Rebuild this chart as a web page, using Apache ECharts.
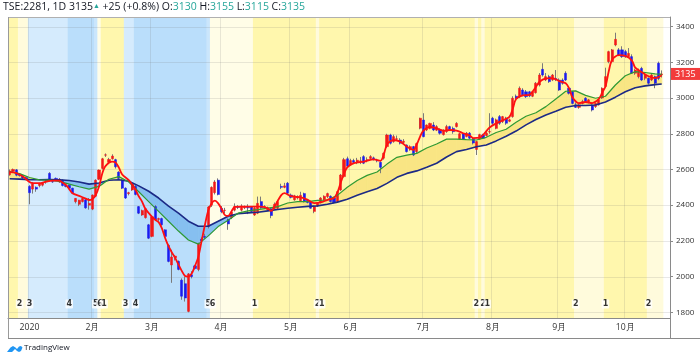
<!DOCTYPE html>
<html><head><meta charset="utf-8">
<script src="https://cdn.jsdelivr.net/npm/echarts@6/dist/echarts.min.js"></script>
<style>html,body{margin:0;padding:0;background:#fff}#c{width:700px;height:360px}</style>
</head><body><div id="c"></div>
<script>
// ---------------- data ----------------
const monthDays = [
 ['2019-12',[23,24,25,26,27,30]],
 ['2020-01',[6,7,8,9,10,14,15,16,17,20,21,22,23,24,27,28,29,30,31]],
 ['2020-02',[3,4,5,6,7,10,12,13,14,17,18,19,20,21,25,26,27,28]],
 ['2020-03',[2,3,4,5,6,9,10,11,12,13,16,17,18,19,23,24,25,26,27,30,31]],
 ['2020-04',[1,2,3,6,7,8,9,10,13,14,15,16,17,20,21,22,23,24,27,28,30]],
 ['2020-05',[1,7,8,11,12,13,14,15,18,19,20,21,22,25,26,27,28,29]],
 ['2020-06',[1,2,3,4,5,8,9,10,11,12,15,16,17,18,19,22,23,24,25,26,29,30]],
 ['2020-07',[1,2,3,6,7,8,9,10,13,14,15,16,17,20,21,22,27,28,29,30,31]],
 ['2020-08',[3,4,5,6,7,11,12,13,14,17,18,19,20,21,24,25,26,27,28,31]],
 ['2020-09',[1,2,3,4,7,8,9,10,11,14,15,16,17,18,23,24,25,28,29,30]],
 ['2020-10',[2,5,6,7,8,9,12,13,14,15,16,19]]
];
const opens = [2570,2590,2598,2570,2565,2555,2505,2490,2500,2510,2512,2530,2578,2532,2550,2530,2540,2512,2512,2495,
2420,2405,2420,2430,2400,2378,2450,2545,2606,2680,2640,2660,2655,2585,2540,2495,2465,2485,2505,2392,
2345,2330,2290,2225,2392,2320,2325,2262,2175,2065,2105,2085,1980,1960,1805,2010,2060,2040,2210,2225,
2280,2400,2470,2540,2383,2370,2320,2330,2372,2390,2372,2385,2388,2390,2345,2355,2420,2390,2375,2380,
2382,2383,2505,2500,2523,2457,2430,2440,2425,2465,2430,2420,2365,2395,2415,2430,2448,2450,2440,2420,
2485,2560,2660,2625,2650,2640,2645,2672,2650,2662,2665,2650,2640,2663,2728,2793,2756,2770,2765,2752,
2737,2710,2728,2700,2831,2877,2821,2830,2849,2820,2821,2795,2812,2840,2830,2840,2770,2800,2785,2803,
2775,2712,2770,2793,2790,2810,2887,2830,2896,2868,2887,2870,2896,3010,3008,3045,3035,3035,3010,3030,
3073,3161,3101,3120,3101,3110,3101,3101,3139,3055,3036,2962,2948,2970,2999,2975,2961,2952,2962,3000,
3065,3204,3204,3297,3270,3270,3260,3232,3232,3139,3120,3166,3111,3111,3101,3120,3195,3130];
const highs = [2600,2605,2602,2578,2570,2560,2512,2530,2505,2525,2530,2545,2585,2540,2555,2552,2545,2520,2515,2498,
2440,2430,2440,2435,2440,2460,2545,2600,2665,2690,2665,2685,2660,2590,2545,2500,2475,2525,2515,2395,
2375,2385,2295,2340,2400,2330,2330,2265,2180,2150,2120,2090,1990,2000,2020,2030,2065,2190,2220,2240,
2395,2505,2540,2550,2395,2385,2325,2368,2410,2400,2405,2398,2405,2395,2390,2448,2448,2400,2392,2385,
2415,2430,2520,2525,2530,2465,2458,2455,2475,2470,2435,2425,2398,2415,2445,2455,2470,2455,2445,2480,
2575,2665,2672,2660,2660,2665,2670,2680,2668,2680,2672,2660,2645,2695,2800,2800,2795,2790,2775,2770,
2740,2735,2732,2750,2890,2915,2852,2862,2865,2848,2830,2825,2850,2845,2840,2865,2805,2805,2810,2810,
2780,2760,2800,2800,2810,2915,2895,2885,2905,2900,2895,2885,3010,3020,3065,3055,3045,3040,3040,3090,
3140,3195,3140,3130,3135,3157,3110,3110,3150,3065,3040,2975,2970,2990,3005,2995,2965,2975,2995,3060,
3170,3265,3275,3366,3280,3290,3270,3280,3245,3165,3165,3175,3135,3115,3135,3125,3204,3155];
const lows = [2565,2580,2562,2560,2548,2540,2405,2465,2475,2500,2505,2520,2540,2525,2535,2525,2505,2500,2490,2462,
2410,2395,2415,2380,2375,2372,2445,2540,2600,2670,2630,2655,2605,2545,2490,2435,2455,2480,2455,2350,
2340,2325,2210,2220,2315,2310,2285,2220,2080,1965,2090,2035,1870,1860,1800,1990,2040,2030,2195,2210,
2270,2390,2460,2455,2355,2355,2262,2322,2365,2378,2365,2378,2350,2360,2340,2350,2380,2380,2368,2327,
2375,2378,2490,2495,2460,2438,2425,2432,2420,2415,2410,2380,2355,2390,2410,2425,2440,2415,2410,2415,
2480,2555,2610,2620,2630,2630,2630,2630,2640,2655,2650,2640,2579,2655,2720,2740,2750,2760,2740,2745,
2695,2705,2675,2690,2825,2780,2815,2825,2815,2815,2795,2790,2805,2815,2800,2835,2765,2765,2780,2770,
2740,2681,2765,2770,2785,2800,2850,2825,2850,2860,2850,2865,2890,2990,3000,3010,3000,3005,3005,3025,
3065,3120,3095,3085,3095,3095,3040,3075,3095,3020,2965,2945,2940,2965,2975,2970,2925,2945,2958,2995,
3060,3195,3195,3290,3235,3225,3225,3225,3135,3130,3110,3095,3100,3075,3095,3055,3100,3115];
const closes = [2592,2600,2568,2566,2552,2545,2470,2520,2490,2520,2525,2540,2545,2530,2538,2545,2510,2505,2495,2467,
2438,2428,2438,2385,2410,2457,2540,2597,2660,2682,2656,2675,2615,2550,2495,2440,2470,2520,2460,2355,
2370,2380,2215,2335,2318,2325,2290,2225,2085,2110,2115,2040,1890,1880,2015,2000,2045,2185,2200,2220,
2390,2500,2530,2460,2364,2372,2295,2362,2392,2388,2395,2392,2385,2365,2383,2410,2385,2392,2385,2342,
2405,2420,2500,2508,2467,2444,2452,2447,2455,2420,2415,2383,2392,2410,2440,2450,2465,2420,2415,2476,
2569,2655,2618,2650,2640,2652,2648,2635,2655,2672,2660,2648,2612,2691,2793,2747,2784,2772,2747,2758,
2700,2728,2681,2745,2887,2784,2849,2858,2821,2840,2803,2818,2840,2820,2812,2858,2800,2770,2803,2775,
2748,2756,2795,2775,2803,2812,2859,2878,2859,2896,2859,2878,2999,2998,3055,3018,3008,3012,3035,3083,
3129,3129,3120,3092,3129,3105,3045,3083,3101,3027,2970,2948,2962,2980,2980,2990,2933,2970,2990,3055,
3120,3260,3270,3329,3241,3232,3232,3250,3139,3157,3157,3101,3129,3083,3129,3083,3110,3135];

// moving averages (bar index, value)
const maIdx = [0,3,6,9,12,15,18,21,24,27,30,33,36,39,42,45,48,51,54,57,60,63,66,69,72,75,78,81,84,87,90,93,96,99,
102,105,108,111,114,117,120,123,126,129,132,135,138,141,144,147,150,153,156,159,162,165,168,171,174,177,180,183,186,189,192,195,197];
const maMid = [2588,2577,2555,2542,2540,2533,2518,2503,2490,2505,2545,2560,2530,2475,2420,2365,2310,2255,2205,2182,2228,2280,2315,2355,
2368,2375,2383,2392,2412,2420,2420,2427,2429,2455,2500,2538,2567,2586,2630,2668,2680,2690,2720,2743,2770,2770,2767,2765,2780,2807,
2825,2865,2898,2918,2952,2995,3038,3040,3015,2999,3010,3073,3125,3148,3143,3135,3133];
const maLong = [2548,2546,2543,2542,2544,2542,2538,2530,2518,2524,2540,2542,2534,2508,2478,2440,2395,2355,2310,2282,2282,2310,2338,2352,
2357,2360,2368,2376,2383,2388,2393,2396,2405,2417,2433,2455,2475,2493,2522,2556,2578,2592,2612,2635,2670,2700,2712,2727,2737,2760,
2786,2815,2850,2880,2905,2926,2948,2958,2958,2961,2978,3005,3035,3058,3068,3075,3079];
const maFastIdx = [0,2,4,6,7,9,11,13,15,16,17,18,19,21,23,24,25,26,27,28,29,31,32,33,34,36,37,38,39,40,41,43,44,45,46,47,48,49,50,
51,52,53,54,55,56,57,58,59,60,61,62,63,64,65,66,67,68,70,72,76,78,79,80,82,83,85,88,90,92,94,96,98,99,100,101,102,104,107,110,112,
113,114,116,118,120,122,123,124,125,127,129,131,133,135,137,139,140,142,143,145,147,149,151,152,153,155,157,159,160,162,164,166,168,
169,170,172,174,176,178,179,180,181,182,184,186,188,189,191,193,195,197];
const maFast = [2585,2580,2560,2530,2523,2523,2532,2538,2538,2526,2513,2490,2467,2452,2437,2429,2435,2457,2504,2579,2620,2644,2640,2610,
2572,2540,2515,2488,2450,2420,2380,2335,2318,2305,2270,2215,2170,2135,2105,2068,2032,2003,2000,2017,2060,2110,2200,2290,2370,2410,
2425,2410,2380,2345,2340,2365,2390,2392,2392,2392,2383,2368,2392,2455,2467,2450,2444,2430,2411,2415,2430,2440,2470,2525,2575,2612,
2635,2644,2657,2648,2681,2740,2765,2756,2728,2710,2740,2784,2818,2838,2830,2818,2821,2818,2803,2790,2776,2778,2793,2835,2858,2876,
2895,2940,2995,3015,3018,3062,3090,3110,3112,3095,3083,3055,3005,2972,2978,2972,2995,3030,3065,3150,3215,3240,3236,3210,3170,3145,
3122,3112,3128];

// background regime bands and their markers
const bandStart = [0,3,6,18,26,27,28,35,38,60,61,74,93,94,141,142,143,144,171,180,193];
const bandEnd   = [2,5,17,25,26,27,34,37,59,60,73,92,93,140,141,142,143,170,179,192,197];
const bandState = [1,2,3,4,5,6,1,3,4,5,6,1,2,1,2,1,2,1,2,1,2];
const markIdx  = [3,6,18,26,27,28,35,38,60,61,74,93,94,141,143,144,171,180,193];
const markText = ['2','3','4','5','6','1','3','4','5','6','1','2','1','2','2','1','2','1','2'];

const yTicks = [1800,2000,2200,2400,2600,2800,3000,3200,3400];
const lastPrice = 3135;

// ---------------- chart ----------------
const cats = [];
monthDays.forEach(([m, ds]) => ds.forEach(d => cats.push(m + '-' + String(d).padStart(2, '0'))));
const nReal = cats.length;
cats.push('pad-1', 'pad-2');
const isMonthStart = i => i > 0 && i < nReal && cats[i].slice(0, 7) !== cats[i - 1].slice(0, 7);
const monthStarts = cats.map((c, i) => i).filter(isMonthStart);

const candleData = opens.map((o, i) => [o, closes[i], lows[i], highs[i]]);
const bodyData = opens.map((o, i) => [o, closes[i], Math.min(o, closes[i]), Math.max(o, closes[i])]);

// markers on consecutive bars are spread slightly so that each stays readable
let run = 0;
const markData = markIdx.map((i, k) => {
  run = (k > 0 && i - markIdx[k - 1] === 1) ? run + 1 : 0;
  return {value: [i, 1847, markText[k]], label: {offset: [run * 0.9, 0]}};
});

const BAND_COLORS = {1:'rgba(255,235,59,0.42)',2:'rgba(255,235,59,0.18)',3:'rgba(33,150,243,0.19)',
  4:'rgba(33,150,243,0.31)',5:'rgba(33,150,243,0.24)',6:'rgba(255,235,59,0.12)'};
const FILL_UP = '#f9e584', FILL_DN = '#86bff0';
const GRID_COLOR = 'rgba(110,110,110,0.16)';
const FONT = 'Open Sans';

const chart = echarts.init(document.getElementById('c'), null, {renderer: 'canvas'});
const option = {
  animation: false,
  backgroundColor: '#ffffff',
  textStyle: {fontFamily: FONT},
  grid: {left: 8, right: 30, top: 17, bottom: 42},
  xAxis: {
    type: 'category', data: cats, boundaryGap: true,
    axisLine: {show: true, lineStyle: {color: '#8a8a8a', width: 1}},
    axisTick: {show: false},
    splitLine: {show: false},
    axisLabel: {
      interval: (i) => isMonthStart(i),
      formatter: v => { const m = +v.slice(5, 7); return m === 1 ? v.slice(0, 4) : m + '月'; },
      color: '#333', fontSize: 8.7, margin: 5, fontFamily: FONT
    }
  },
  yAxis: {
    type: 'value', position: 'right', min: 1768, max: 3454, scale: true,
    axisLine: {show: true, lineStyle: {color: '#8a8a8a'}},
    axisTick: {show: true, length: 3, lineStyle: {color: '#8a8a8a'}, customValues: yTicks},
    axisLabel: {customValues: yTicks, formatter: v => String(v), color: '#333', fontSize: 8, margin: 6, fontFamily: FONT},
    splitLine: {show: false}
  },
  series: [
    { // regime bands
      type: 'custom', z: 1, silent: true,
      data: bandStart.map((s, i) => [s, bandEnd[i], bandState[i]]),
      encode: {x: [0, 1]},
      renderItem: (params, api) => {
        const cs = params.coordSys;
        const w = api.size([1, 0])[0];
        const x0 = api.coord([api.value(0), 2000])[0] - w / 2;
        const x1 = api.coord([api.value(1), 2000])[0] + w / 2;
        return {type: 'rect', shape: {x: x0, y: cs.y, width: x1 - x0, height: cs.height},
          style: {fill: BAND_COLORS[api.value(2)]}};
      }
    },
    { // horizontal grid lines
      type: 'custom', z: 1, silent: true,
      data: yTicks.map(v => [0, v]), encode: {x: 0, y: 1},
      renderItem: (params, api) => {
        const cs = params.coordSys; const y = Math.round(api.coord([0, api.value(1)])[1]) + 0.5;
        return {type: 'line', shape: {x1: cs.x, y1: y, x2: cs.x + cs.width, y2: y}, style: {stroke: GRID_COLOR, lineWidth: 1}};
      }
    },
    { // vertical month lines
      type: 'custom', z: 1, silent: true,
      data: monthStarts.map(i => [i, 2000]), encode: {x: 0, y: 1},
      renderItem: (params, api) => {
        const cs = params.coordSys; const w = api.size([1, 0])[0];
        const x = Math.round(api.coord([api.value(0), 2000])[0] - w / 2) + 0.5;
        return {type: 'line', shape: {x1: x, y1: cs.y, x2: x, y2: cs.y + cs.height}, style: {stroke: GRID_COLOR, lineWidth: 1}};
      }
    },
    { // fill between mid and long averages
      type: 'custom', z: 2, silent: true,
      data: maIdx.slice(0, -1).map((i, k) => [i, maIdx[k + 1], maMid[k], maMid[k + 1], maLong[k], maLong[k + 1]]),
      encode: {x: [0, 1], y: [2, 3, 4, 5]},
      renderItem: (params, api) => {
        const i0 = api.value(0), i1 = api.value(1), g0 = api.value(2), g1 = api.value(3), n0 = api.value(4), n1 = api.value(5);
        const G0 = api.coord([i0, g0]), G1 = api.coord([i1, g1]), N0 = api.coord([i0, n0]), N1 = api.coord([i1, n1]);
        const d0 = g0 - n0, d1 = g1 - n1;
        const st = c => ({fill: c, stroke: c, lineWidth: 0.6});
        if (d0 * d1 >= 0) {
          const c = (d0 + d1) >= 0 ? FILL_UP : FILL_DN;
          return {type: 'polygon', shape: {points: [G0, G1, N1, N0]}, style: st(c)};
        }
        const t = d0 / (d0 - d1);
        const X = [G0[0] + t * (G1[0] - G0[0]), G0[1] + t * (G1[1] - G0[1])];
        return {type: 'group', children: [
          {type: 'polygon', shape: {points: [G0, X, N0]}, style: st(d0 >= 0 ? FILL_UP : FILL_DN)},
          {type: 'polygon', shape: {points: [X, G1, N1]}, style: st(d1 >= 0 ? FILL_UP : FILL_DN)}
        ]};
      }
    },
    { // wicks
      type: 'candlestick', z: 3, silent: true, data: candleData, barWidth: 1,
      itemStyle: {color: '#7a7a7a', color0: '#7a7a7a', borderColor: '#7a7a7a', borderColor0: '#7a7a7a', borderWidth: 1}
    },
    { // bodies
      type: 'candlestick', z: 4, silent: true, data: bodyData, barWidth: 2.6,
      itemStyle: {color: '#f21818', color0: '#1a1af0', borderColor: '#f21818', borderColor0: '#1a1af0', borderWidth: 0.5},
      markLine: {
        silent: true, symbol: 'none', animation: false,
        lineStyle: {color: 'rgba(0,0,0,0)', width: 0},
        label: {position: 'end', formatter: String(lastPrice), color: '#fff', backgroundColor: '#f23c3c',
          padding: [2, 5, 1, 5], fontSize: 9, distance: 0, fontFamily: FONT},
        data: [{yAxis: lastPrice}]
      }
    },
    { type: 'line', z: 5, silent: true, data: maIdx.map((i, k) => [i, maLong[k]]), symbol: 'none',
      lineStyle: {color: '#1c2a86', width: 1.6} },
    { type: 'line', z: 5, silent: true, data: maIdx.map((i, k) => [i, maMid[k]]), symbol: 'none',
      lineStyle: {color: '#2f9a35', width: 1.2} },
    { type: 'line', z: 6, silent: true, data: maFastIdx.map((i, k) => [i, maFast[k]]), symbol: 'none', smooth: 0.3,
      lineStyle: {color: '#ff1010', width: 1.8} },
    { // regime markers
      type: 'scatter', z: 7, silent: true, symbolSize: 1, itemStyle: {color: 'rgba(0,0,0,0)'},
      data: markData,
      label: {show: true, position: 'inside', formatter: p => p.data.value[2], color: '#000', fontWeight: 'bold',
        fontSize: 8, backgroundColor: '#fff', padding: [1, 1, 0, 1], borderRadius: 1, fontFamily: 'DejaVu Sans'}
    }
  ],
  graphic: [
    {type: 'line', shape: {x1: 8, y1: 17.5, x2: 670, y2: 17.5}, style: {stroke: '#b0b0b0', lineWidth: 1}, z: 100},
    {type: 'line', shape: {x1: 8.5, y1: 17, x2: 8.5, y2: 338}, style: {stroke: '#9a9a9a', lineWidth: 1}, z: 100},
    {type: 'line', shape: {x1: 670.5, y1: 17, x2: 670.5, y2: 338}, style: {stroke: '#8a8a8a', lineWidth: 1}, z: 100},
    {type: 'line', shape: {x1: 8, y1: 338.5, x2: 700, y2: 338.5}, style: {stroke: '#8a8a8a', lineWidth: 1}, z: 100},
    {type: 'text', left: 3, top: 2, z: 100, style: {
      text: '{a|TSE:2281, 1D 3135}{t|▲}{a| +25 (+0.8%) O:}{g|3130}{a| H:}{g|3155}{a| L:}{g|3115}{a| C:}{g|3135}',
      rich: {a: {fill: '#131722', fontSize: 10.5, fontFamily: FONT}, g: {fill: '#26a69a', fontSize: 10.5, fontFamily: FONT},
        t: {fill: '#26a69a', fontSize: 7, fontFamily: FONT, verticalAlign: 'top'}}
    }},
    {type: 'group', left: 7, top: 344, z: 100, children: [
      {type: 'polygon', shape: {points: [[0,8],[3.5,3.5],[6,2],[8.5,3.5],[10,5],[12,2.5],[14,2],[15.5,3.5],[14,7],[12,8],[10,7],[8,5],[5,8]]},
        style: {fill: '#2196f3'}},
      {type: 'text', x: 17, y: 0, style: {text: 'TradingView', fill: '#131722', fontSize: 8, fontFamily: FONT}}
    ]}
  ]
};
chart.setOption(option);
</script></body></html>
